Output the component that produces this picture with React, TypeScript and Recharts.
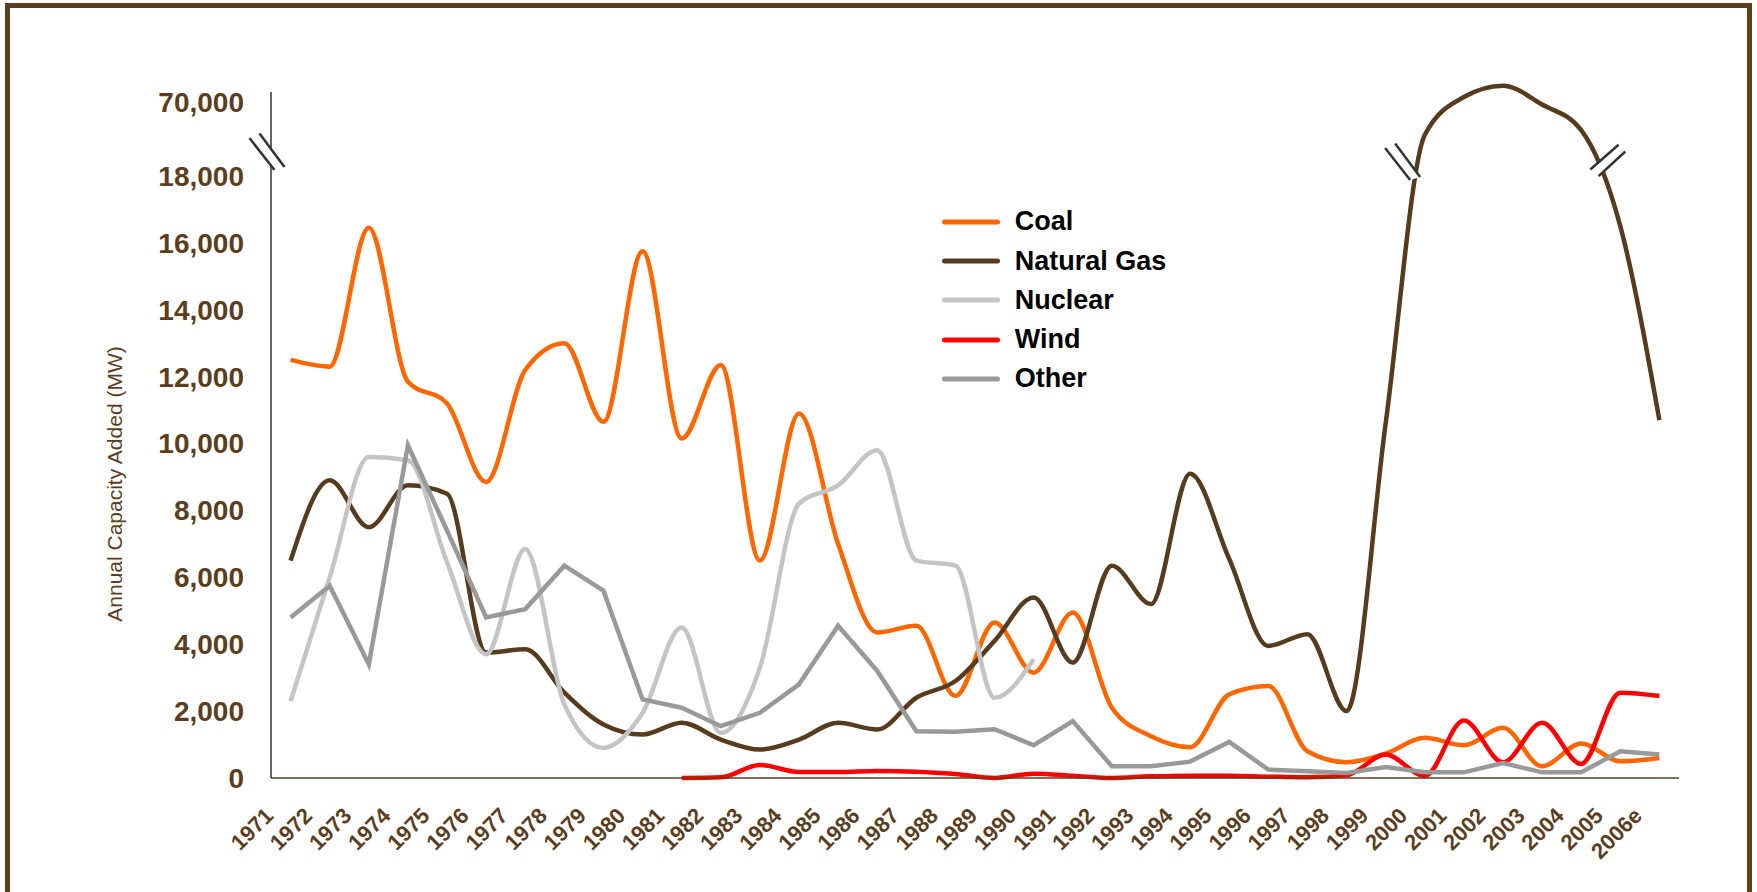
import React from 'react';
import { LineChart, Line, XAxis, YAxis, Legend, ReferenceDot } from 'recharts';

const years = [
  '1971', '1972', '1973', '1974', '1975', '1976', '1977', '1978', '1979', '1980',
  '1981', '1982', '1983', '1984', '1985', '1986', '1987', '1988', '1989', '1990',
  '1991', '1992', '1993', '1994', '1995', '1996', '1997', '1998', '1999', '2000',
  '2001', '2002', '2003', '2004', '2005', '2006e',
];

// MW added per year
const coal = [
  12500, 12300, 16450, 11850, 11200, 8850, 12200, 13000, 10650, 15750,
  10150, 12350, 6500, 10900, 7000, 4350, 4550, 2450, 4650, 3150,
  4950, 2100, 1250, 920, 2500, 2750, 800, 470, 730, 1200,
  980, 1500, 350, 1030, 500, 600,
];
const naturalGas = [
  6500, 8900, 7500, 8750, 8500, 3750, 3850, 2550, 1600, 1300,
  1650, 1150, 850, 1150, 1650, 1450, 2400, 2900, 4100, 5400,
  3450, 6350, 5200, 9100, 6550, 3950, 4300, 2000, 10600, 46800,
  73500, 81500, 68200, 50300, 16500, 10700,
];
const nuclear = [
  2300, 6000, 9600, 9500, 6450, 3700, 6850, 2200, 900, 1950,
  4500, 1350, 3300, 8200, 8750, 9800, 6500, 6350, 2400, 3550,
  null, null, null, null, null, null, null, null, null, null,
  null, null, null, null, null, null,
];
const wind = [
  null, null, null, null, null, null, null, null, null, null,
  0, 20, 390, 180, 180, 210, 190, 120, 0, 130,
  70, 0, 50, 70, 70, 40, 20, 80, 700, 60,
  1720, 470, 1650, 420, 2550, 2450,
];
const other = [
  4800, 5750, 3400, 9950, 7400, 4800, 5050, 6350, 5600, 2350,
  2100, 1550, 1950, 2800, 4550, 3200, 1400, 1380, 1460, 980,
  1700, 350, 350, 490, 1080, 250, 200, 150, 330, 170,
  170, 450, 170, 170, 800, 700,
];

const seriesNames = ['Coal', 'Natural Gas', 'Nuclear', 'Wind', 'Other'];
const yTicks = [0, 2000, 4000, 6000, 8000, 10000, 12000, 14000, 16000, 18000, 70000];

const data = years.map((year, i) => ({
  year,
  coal: coal[i],
  gas: naturalGas[i],
  nuclear: nuclear[i],
  wind: wind[i],
  other: other[i],
}));

const BROWN = '#5A3E1E';
const FONT = '"Liberation Sans", Arial, sans-serif';

// broken value axis: 0-18,000 linear, then a squeezed band up to 70,000
const BREAK = 18000;
const TOP_TICK = 70000;
const LOWER_SHARE = 602 / 686;
const UPPER_SHARE = 74 / 686;

function brokenScale(): any {
  let dom = [0, TOP_TICK];
  let rng = [0, 1];
  const unit = (v: number) =>
    v <= BREAK
      ? (v / BREAK) * LOWER_SHARE
      : LOWER_SHARE + ((v - BREAK) / (TOP_TICK - BREAK)) * UPPER_SHARE;
  const s: any = (v: number) => rng[0] + (rng[1] - rng[0]) * unit(v);
  s.domain = (d?: number[]) => {
    if (!d) return dom.slice();
    dom = d.slice();
    return s;
  };
  s.range = (r?: number[]) => {
    if (!r) return rng.slice();
    rng = r.slice();
    return s;
  };
  s.copy = () => brokenScale().domain(dom).range(rng);
  s.ticks = () => yTicks;
  return s;
}

const YTick = ({ x, y, payload }: any) => (
  <text x={x} y={y} dy="0.355em" textAnchor="end" fill={BROWN} fontFamily={FONT} fontWeight="bold" fontSize={28}>
    {Number(payload.value).toLocaleString('en-US')}
  </text>
);

const XTick = ({ x, y, payload }: any) => (
  <text
    transform={`translate(${x - 16},${y + 39}) rotate(-45)`}
    textAnchor="end"
    fill={BROWN}
    fontFamily={FONT}
    fontWeight="bold"
    fontSize={22}
  >
    {payload.value}
  </text>
);

const AxisTitle = ({ viewBox }: any) => {
  const cx = viewBox.x + 122;
  const cy = viewBox.y + viewBox.height / 2 + 49;
  return (
    <text transform={`translate(${cx},${cy}) rotate(-90)`} textAnchor="middle" fill={BROWN} fontFamily={FONT} fontSize={21}>
      Annual Capacity Added (MW)
    </text>
  );
};

// "\\" style break mark
const backslashBreak = (dx: number) => ({ cx, cy }: any) => {
  const x = cx + dx;
  return (
    <g>
      <polygon
        points={`${x - 17.5},${cy - 14} ${x + 7.5},${cy + 18} ${x + 17.5},${cy + 15} ${x - 7.5},${cy - 18.5}`}
        fill="#fff"
      />
      <line x1={x - 17.5} y1={cy - 14} x2={x + 7.5} y2={cy + 18} stroke="#333" strokeWidth={2.5} />
      <line x1={x - 7.5} y1={cy - 18.5} x2={x + 17.5} y2={cy + 15} stroke="#333" strokeWidth={2.5} />
    </g>
  );
};

// "//" style break mark
const slashBreak = (dx: number) => ({ cx, cy }: any) => {
  const x = cx + dx;
  return (
    <g>
      <polygon
        points={`${x - 17.5},${cy + 9} ${x + 10.8},${cy - 15.7} ${x + 17.5},${cy - 9} ${x - 9.2},${cy + 15.6}`}
        fill="#fff"
      />
      <line x1={x - 17.5} y1={cy + 9} x2={x + 10.8} y2={cy - 15.7} stroke="#333" strokeWidth={2.5} />
      <line x1={x - 9.2} y1={cy + 15.6} x2={x + 17.5} y2={cy - 9} stroke="#333" strokeWidth={2.5} />
    </g>
  );
};

const LegendContent = ({ payload }: any) => {
  const items = [...(payload || [])].sort(
    (a: any, b: any) => seriesNames.indexOf(a.value) - seriesNames.indexOf(b.value)
  );
  return (
    <div style={{ fontFamily: FONT }}>
      {items.map((p: any) => (
        <div key={p.value} style={{ display: 'flex', alignItems: 'center', height: 39.2 }}>
          <svg width={58} height={10} style={{ marginRight: 15 }}>
            <line x1={2.5} y1={5} x2={55.5} y2={5} stroke={p.color} strokeWidth={5} strokeLinecap="round" />
          </svg>
          <span style={{ fontSize: 27, fontWeight: 'bold', color: '#000' }}>{p.value}</span>
        </div>
      ))}
    </div>
  );
};

export default function App() {
  return (
    <div style={{ position: 'relative', width: 1757, height: 892, overflow: 'hidden', background: '#fff' }}>
      <style>{'body{margin:0}'}</style>
      <div
        style={{
          position: 'absolute',
          left: 5,
          top: 3,
          width: 1747,
          height: 894,
          border: `5px solid ${BROWN}`,
          boxSizing: 'border-box',
        }}
      />
      <div style={{ position: 'absolute', left: 0, top: 0 }}>
        <LineChart width={1757} height={892} data={data} margin={{ top: 92, right: 78, bottom: 0, left: 0 }}>
          <XAxis
            dataKey="year"
            interval={0}
            padding={{ left: 19.6, right: 19.6 }}
            height={114}
            tickSize={0}
            tickMargin={0}
            tickLine={false}
            axisLine={{ stroke: BROWN, strokeWidth: 1.5 }}
            tick={<XTick />}
          />
          <YAxis
            type="number"
            scale={brokenScale()}
            domain={[0, 77027]}
            ticks={yTicks}
            interval={0}
            width={271}
            tickSize={0}
            tickMargin={27}
            tickLine={false}
            axisLine={{ stroke: '#000', strokeWidth: 1.2 }}
            tick={<YTick />}
            label={{ position: 'insideLeft', content: AxisTitle }}
          />
          <Legend
            layout="vertical"
            align="center"
            verticalAlign="middle"
            wrapperStyle={{ left: 941.7, top: 202.4, width: 320 }}
            content={<LegendContent />}
          />
          <Line name="Coal" dataKey="coal" type="monotone" stroke="#FF6600" strokeWidth={4.5} dot={false} isAnimationActive={false} />
          <Line name="Natural Gas" dataKey="gas" type="monotone" stroke="#563B1E" strokeWidth={4.5} dot={false} isAnimationActive={false} />
          <Line name="Nuclear" dataKey="nuclear" type="monotone" stroke="#C4C4C4" strokeWidth={4.5} dot={false} isAnimationActive={false} />
          <Line name="Wind" dataKey="wind" type="monotone" stroke="#FF0000" strokeWidth={4.5} dot={false} isAnimationActive={false} />
          <Line name="Other" dataKey="other" type="linear" stroke="#999999" strokeWidth={4.5} dot={false} isAnimationActive={false} />
          <ReferenceDot x="1971" y={34800} ifOverflow="visible" shape={backslashBreak(-23.6)} />
          <ReferenceDot x="1999" y={27800} ifOverflow="visible" shape={backslashBreak(17)} />
          <ReferenceDot x="2005" y={28900} ifOverflow="visible" shape={slashBreak(-12.5)} />
        </LineChart>
      </div>
    </div>
  );
}
